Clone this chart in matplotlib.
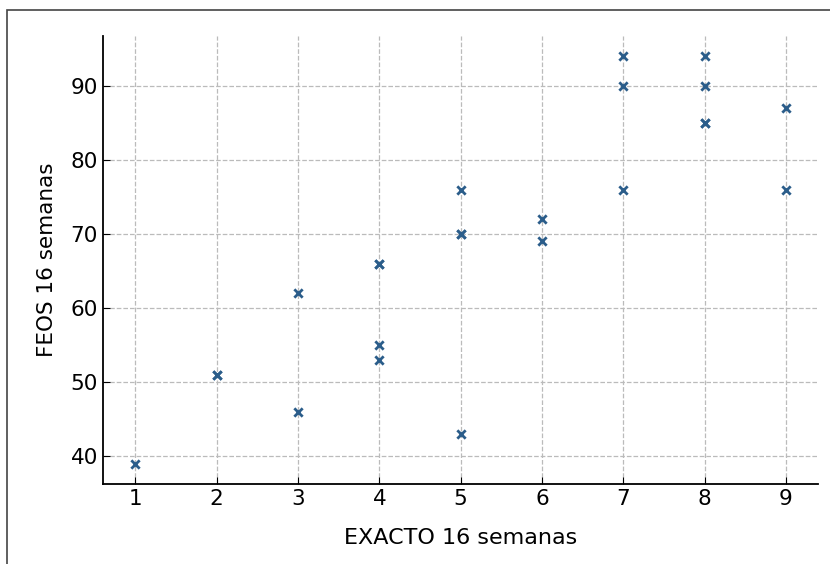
import matplotlib
matplotlib.use("Agg")
from matplotlib import pyplot as plt
from matplotlib.patches import Rectangle

# EXACTO vs FEOS scores at 16 weeks (repeated pairs are listed twice)
exacto = [1, 2, 2, 3, 3, 4, 4, 4, 4, 5, 5, 5, 5, 6, 6, 7, 7, 7, 8, 8, 8, 8, 9, 9]
feos = [39, 51, 51, 62, 46, 66, 66, 55, 53, 76, 70, 70, 43, 72, 69, 94, 90, 76, 94, 90, 85, 85, 87, 76]

fig = plt.figure(figsize=(8.3, 5.64), dpi=100)
ax = fig.add_axes([0.124, 0.142, 0.862, 0.794])

ax.scatter(exacto, feos, marker='x', s=36, linewidths=2, color='#2b5d8a', zorder=3)

ax.set_xticks(range(1, 10))
ax.set_yticks([40, 50, 60, 70, 80, 90])
ax.grid(True, linestyle='--', color='#bbbbbb', linewidth=0.9)
ax.tick_params(direction='in', labelsize=15.5, length=5)
for side in ['top', 'right']:
    ax.spines[side].set_visible(False)
ax.spines['left'].set_linewidth(1.3)
ax.spines['bottom'].set_linewidth(1.3)

ax.set_xlabel('EXACTO 16 semanas', fontsize=16, labelpad=14)
ax.set_ylabel('FEOS 16 semanas', fontsize=15.5, labelpad=10)

# frame of the original screenshot (top and left edges)
fig.patches.append(Rectangle((0.008, -0.1), 1.1, 1.083, transform=fig.transFigure,
                             fill=False, edgecolor='#444444', linewidth=1.2))

fig.savefig('out.png', dpi=100)
